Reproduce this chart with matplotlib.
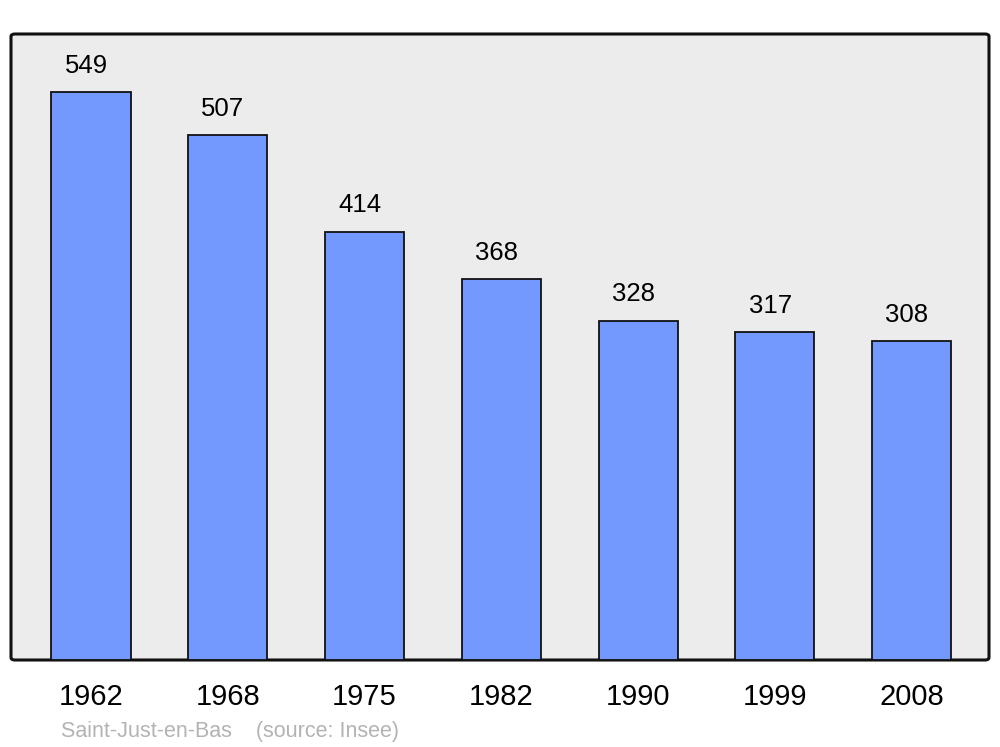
import matplotlib.pyplot as plt
from matplotlib.patches import FancyBboxPatch

# population data
years = ['1962', '1968', '1975', '1982', '1990', '1999', '2008']
population = [549, 507, 414, 368, 328, 317, 308]

commune = 'Saint-Just-en-Bas'
source = '(source: Insee)'

plt.rcParams['font.family'] = ['Liberation Sans', 'DejaVu Sans']

fig = plt.figure(figsize=(10, 7.47), dpi=100)
ax = fig.add_axes([0.011, 87 / 747, 0.978, 626 / 747])

# rounded frame with grey fill
for s in ax.spines.values():
    s.set_visible(False)
ax.patch.set_visible(False)
frame = FancyBboxPatch((0, 0), 1, 1, boxstyle='round,pad=0,rounding_size=0.004',
                       transform=ax.transAxes, facecolor='#ececec', edgecolor='#111111',
                       linewidth=2.2, zorder=0, clip_on=False)
ax.add_patch(frame)

x = range(len(years))
bars = ax.bar(x, population, width=0.578, color='#7399ff', edgecolor='#111111',
              linewidth=1.3, zorder=2)

for xi, v in zip(x, population):
    ax.annotate(str(v), (xi, v), xytext=(-3.5, 19), textcoords='offset points',
                ha='center', va='center', fontsize=18.5, color='black')

ax.set_xlim(-0.585, 6.565)
ax.set_ylim(0, 605)
ax.set_xticks(list(x))
ax.set_xticklabels(years, fontsize=21)
ax.tick_params(axis='x', length=0, pad=16.5)
ax.set_yticks([])

fig.text(0.061, 1 - 731 / 747, commune + '    ' + source, fontsize=15.5,
         color='#b3b3b3', ha='left', va='center')

fig.savefig('out.png', dpi=100)
